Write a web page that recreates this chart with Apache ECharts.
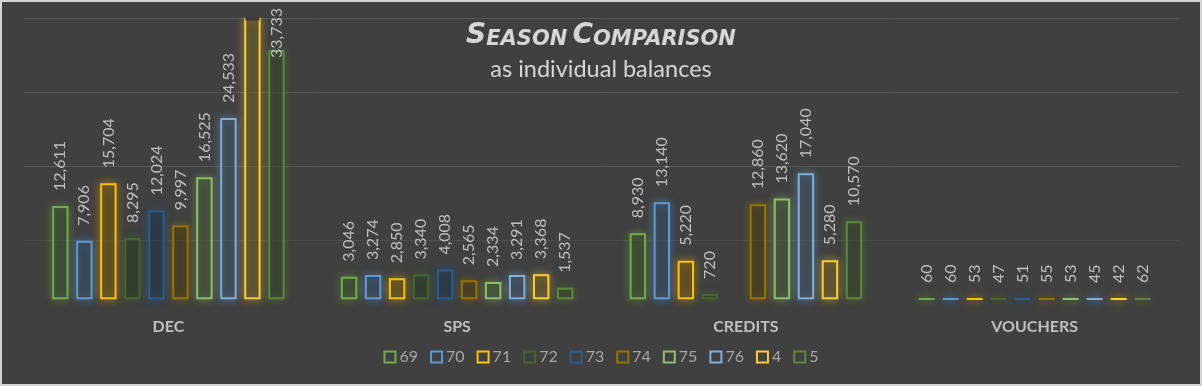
<!DOCTYPE html>
<html>
<head>
<meta charset="utf-8">
<script src="https://cdn.jsdelivr.net/npm/echarts@6/dist/echarts.min.js"></script>
<style>
  html, body { margin: 0; padding: 0; background: #404040; }
  #chart { width: 1202px; height: 386px; box-sizing: border-box; border: 2px solid #d4d4d4; }
</style>
</head>
<body>
<div id="chart"></div>
<script>
// ---- data ----
const categories = ['DEC', 'SPS', 'CREDITS', 'VOUCHERS'];
const seriesNames = ['69', '70', '71', '72', '73', '74', '75', '76', '4', '5'];
const s69 = [12611, 3046, 8930, 60];
const s70 = [7906, 3274, 13140, 60];
const s71 = [15704, 2850, 5220, 53];
const s72 = [8295, 3340, 720, 47];
const s73 = [12024, 4008, null, 51];
const s74 = [9997, 2565, 12860, 55];
const s75 = [16525, 2334, 13620, 53];
const s76 = [24533, 3291, 17040, 45];
const s4 = [41000, 3368, 5280, 42];   // DEC value runs off the top of the chart (estimated)
const s5 = [33733, 1537, 10570, 62];
const seriesValues = [s69, s70, s71, s72, s73, s74, s75, s76, s4, s5];
const colors = ['#70AD47', '#5B9BD5', '#FFC000', '#43682B', '#255E91', '#997300', '#8CC168', '#7CAFDD', '#FFCD33', '#5A8A39'];

const AXIS_MIN = -2000, AXIS_MAX = 38000, AXIS_STEP = 10000;
const BG = '#404040';
const GRID_TOP = 16.5;
const LABEL_DIST = 15;
const LABEL_TOP_LIMIT = 6;

function rgba(hex, a) {
  const n = parseInt(hex.slice(1), 16);
  return 'rgba(' + ((n >> 16) & 255) + ',' + ((n >> 8) & 255) + ',' + (n & 255) + ',' + a + ')';
}

const chart = echarts.init(document.getElementById('chart'), null, { renderer: 'canvas' });

const series = seriesNames.map((name, i) => ({
  name: name,
  type: 'bar',
  data: seriesValues[i],
  barGap: '47%',
  barCategoryGap: '19.5%',
  clip: true,
  itemStyle: {
    color: 'rgba(30,30,30,0.35)',
    borderColor: colors[i],
    borderWidth: 2,
    shadowBlur: 9,
    shadowColor: rgba(colors[i], 0.75)
  },
  label: {
    show: true,
    position: 'top',
    rotate: 90,
    align: 'left',
    verticalAlign: 'middle',
    distance: LABEL_DIST,
    fontFamily: 'Lato',
    fontSize: 16,
    color: '#bfbfbf',
    formatter: p => (p.value == null || p.value > AXIS_MAX) ? '' : Number(p.value).toLocaleString('en-US')
  },
  // keep labels of very tall bars inside the chart area (pushed down over the bar top)
  labelLayout: function (p) {
    const lr = p.labelRect, br = p.rect;
    if (!lr || !br) return {};
    const len = Math.max(lr.width, lr.height);
    const top = br.y - LABEL_DIST - len;
    if (top < LABEL_TOP_LIMIT) {
      return { x: br.x + br.width / 2, y: LABEL_TOP_LIMIT + len };
    }
    return {};
  },
  emphasis: { disabled: true }
}));

chart.setOption({
  backgroundColor: BG,
  animation: false,
  title: [
    {
      text: '{a|S}{b|EASON} {a|C}{b|OMPARISON}',
      left: 'center',
      top: 15,
      textStyle: {
        rich: {
          a: { fontFamily: 'DejaVu Sans', fontStyle: 'italic', fontWeight: 'bold', fontSize: 28, color: '#d6d6d6', verticalAlign: 'bottom' },
          b: { fontFamily: 'DejaVu Sans', fontStyle: 'italic', fontWeight: 'bold', fontSize: 21, color: '#d6d6d6', verticalAlign: 'bottom' }
        }
      }
    },
    {
      text: 'as individual balances',
      left: 'center',
      top: 50,
      textStyle: { fontFamily: 'Lato', fontWeight: 'normal', fontSize: 23.5, color: '#d6d6d6' }
    }
  ],
  legend: {
    data: seriesNames,
    left: 'center',
    top: 342,
    icon: 'rect',
    itemWidth: 11,
    itemHeight: 11,
    itemGap: 12,
    textStyle: { fontFamily: 'Lato', fontSize: 16, color: '#a6a6a6', padding: [0, 0, 0, -1] },
    itemStyle: { shadowBlur: 0, color: 'rgba(0,0,0,0)', borderWidth: 2 }
  },
  grid: { left: 22, right: 21, top: GRID_TOP, bottom: 70, containLabel: false },
  xAxis: {
    type: 'category',
    data: categories,
    axisLine: { show: false, onZero: false },
    axisTick: { show: false },
    axisLabel: { fontFamily: 'Lato', fontWeight: 'bold', fontSize: 16, color: '#bfbfbf', margin: 5 }
  },
  yAxis: {
    type: 'value',
    min: AXIS_MIN,
    max: AXIS_MAX,
    interval: AXIS_STEP,
    axisLine: { show: false },
    axisTick: { show: false },
    axisLabel: { show: false },
    splitLine: { show: true, lineStyle: { width: 1, color: ['rgba(0,0,0,0)', '#4c4c4c', '#575757', '#575757', '#575757'] } }
  },
  series: series
});

// Bars that run past the top of the plot are open at the top (no closing edge, glow cut off).
const masks = [];
seriesNames.forEach((name, si) => {
  const data = chart.getModel().getSeriesByIndex(si).getData();
  seriesValues[si].forEach((v, di) => {
    if (v != null && v > AXIS_MAX) {
      const lay = data.getItemLayout(di);
      if (!lay) return;
      const x0 = Math.min(lay.x, lay.x + lay.width);
      const w = Math.abs(lay.width);
      // glow above the plot top
      masks.push({
        type: 'rect', z: 100, silent: true,
        shape: { x: x0 - 6, y: 0, width: w + 12, height: GRID_TOP - 1 },
        style: { fill: BG }
      });
      // closing edge drawn on the clipped rectangle
      masks.push({
        type: 'rect', z: 100, silent: true,
        shape: { x: x0 + 1.2, y: GRID_TOP - 1.5, width: w - 2.4, height: 3.5 },
        style: { fill: 'rgba(58,58,58,1)' }
      });
    }
  });
});
if (masks.length) chart.setOption({ graphic: { elements: masks } });
</script>
</body>
</html>
